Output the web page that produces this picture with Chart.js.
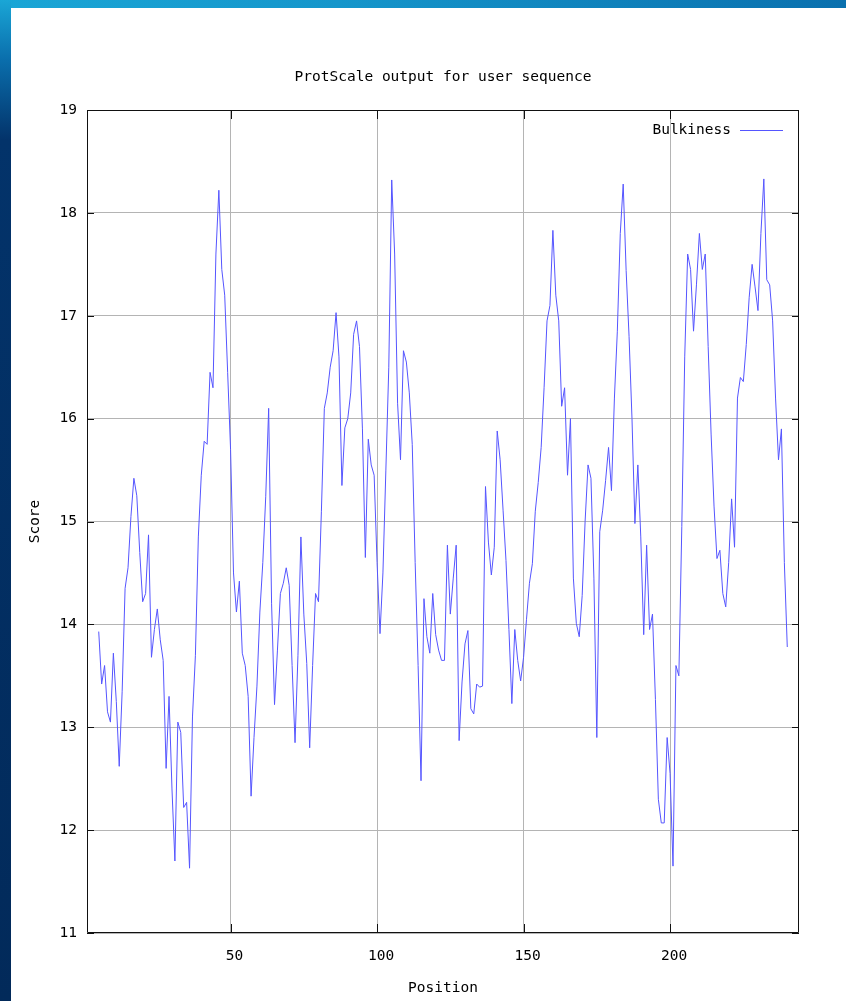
<!DOCTYPE html>
<html><head><meta charset="utf-8">
<script src="https://cdn.jsdelivr.net/npm/chart.js@4.4.1/dist/chart.umd.min.js"></script>
<style>
html,body{margin:0;padding:0;}
body{width:846px;height:1001px;position:relative;overflow:hidden;background:#022a5a;}
#topbar{position:absolute;left:0;top:0;width:846px;height:8px;background:linear-gradient(to right,#1aa6d6,#1596cb 40%,#0a70ae);}
#leftbar{position:absolute;left:0;top:0;width:11px;height:1001px;background:linear-gradient(to bottom,#1aa6d6 0px,#0a6eac 60px,#03336a 140px,#022a5a 1001px);}
#panel{position:absolute;left:11px;top:8px;width:835px;height:993px;background:#fff;}
canvas{position:absolute;left:0;top:0;}
</style></head><body>
<div id="topbar"></div><div id="leftbar"></div><div id="panel"></div>
<canvas id="c" width="846" height="1001"></canvas>
<script>
const chartTitle = 'ProtScale output for user sequence';
const seriesLabel = 'Bulkiness';
const xAxisTitle = 'Position';
const yAxisTitle = 'Score';
const firstPosition = 5;
const bulkiness = [
 13.93,13.42,13.60,13.15,13.05,13.72,13.25,12.62,13.35,14.35,
 14.55,15.05,15.42,15.25,14.70,14.22,14.30,14.87,13.68,13.95,
 14.15,13.85,13.65,12.60,13.30,12.40,11.70,13.05,12.95,12.22,
 12.27,11.63,13.10,13.70,14.85,15.45,15.78,15.75,16.45,16.30,
 17.60,18.22,17.45,17.20,16.45,15.70,14.50,14.12,14.42,13.72,
 13.60,13.30,12.33,12.90,13.40,14.12,14.60,15.24,16.10,14.20,
 13.22,13.75,14.30,14.40,14.55,14.38,13.60,12.85,13.70,14.85,
 14.10,13.62,12.80,13.60,14.30,14.22,15.10,16.10,16.25,16.50,
 16.66,17.03,16.60,15.35,15.91,16.00,16.25,16.82,16.95,16.70,
 15.90,14.65,15.80,15.55,15.45,14.60,13.91,14.50,15.50,16.50,
 18.32,17.60,16.15,15.60,16.66,16.55,16.25,15.75,14.60,13.60,
 12.48,14.25,13.88,13.72,14.30,13.90,13.75,13.65,13.65,14.77,
 14.10,14.45,14.77,12.87,13.44,13.81,13.94,13.18,13.13,13.42,
 13.39,13.40,15.34,14.80,14.48,14.75,15.88,15.60,15.11,14.62,
 13.95,13.23,13.95,13.65,13.45,13.68,14.05,14.40,14.59,15.10,
 15.38,15.72,16.30,16.95,17.10,17.83,17.20,16.95,16.12,16.30,
 15.45,16.00,14.45,14.01,13.88,14.28,15.00,15.55,15.42,14.45,
 12.90,14.90,15.11,15.40,15.72,15.30,16.20,16.85,17.80,18.28,
 17.44,16.80,16.00,14.98,15.55,14.85,13.90,14.77,13.95,14.10,
 13.27,12.30,12.07,12.07,12.90,12.55,11.65,13.60,13.50,14.95,
 16.60,17.60,17.45,16.85,17.30,17.80,17.45,17.60,16.70,15.85,
 15.15,14.64,14.72,14.30,14.17,14.60,15.22,14.75,16.20,16.40,
 16.36,16.72,17.18,17.50,17.28,17.05,17.80,18.33,17.35,17.30,
 16.95,16.20,15.60,15.90,14.60,13.78
];
const xRange = [1, 244];
const yRange = [11, 19];
const xTickValues = [50, 100, 150, 200];
const yTickValues = [11, 12, 13, 14, 15, 16, 17, 18, 19];

const FONT = "'DejaVu Sans Mono', 'Liberation Mono', monospace";
const lineColor = 'rgb(85,85,255)';

const framePlugin = {
  id: 'frame',
  afterDatasetsDraw(chart) {
    const {ctx, chartArea: a, scales: {x, y}} = chart;
    ctx.save();
    ctx.strokeStyle = '#111';
    ctx.lineWidth = 1;
    ctx.beginPath();
    ctx.rect(Math.round(a.left) + 0.5, Math.round(a.top) + 0.5,
             Math.round(a.right - a.left) - 1, Math.round(a.bottom - a.top) - 1);
    yTickValues.forEach(v => {
      const py = Math.round(y.getPixelForValue(v)) + 0.5;
      ctx.moveTo(a.left, py); ctx.lineTo(a.left + 7, py);
      ctx.moveTo(a.right - 7, py); ctx.lineTo(a.right, py);
    });
    xTickValues.forEach(v => {
      const px = Math.round(x.getPixelForValue(v)) + 0.5;
      ctx.moveTo(px, a.bottom); ctx.lineTo(px, a.bottom - 9);
      ctx.moveTo(px, a.top); ctx.lineTo(px, a.top + 9);
    });
    ctx.stroke();
    // legend
    const ds = chart.data.datasets[0];
    ctx.font = '14.5px ' + FONT;
    ctx.fillStyle = '#000';
    ctx.textAlign = 'right';
    ctx.textBaseline = 'middle';
    const ly = a.top + 20;
    ctx.fillText(ds.label, a.right - 68, ly);
    ctx.strokeStyle = ds.borderColor;
    ctx.beginPath();
    ctx.moveTo(a.right - 59, ly + 0.5); ctx.lineTo(a.right - 16, ly + 0.5);
    ctx.stroke();
    ctx.restore();
  }
};

new Chart(document.getElementById('c'), {
  type: 'line',
  data: {
    datasets: [{
      label: seriesLabel,
      data: bulkiness.map((v, i) => ({x: firstPosition + i, y: v})),
      borderColor: lineColor,
      borderWidth: 1,
      pointRadius: 0,
      tension: 0,
      fill: false
    }]
  },
  options: {
    responsive: false,
    animation: false,
    devicePixelRatio: 1,
    layout: {padding: {left: 0, right: 47, top: 0, bottom: 0}},
    plugins: {
      legend: {display: false},
      tooltip: {enabled: false},
      title: {
        display: true, text: chartTitle, fullSize: false, color: '#000',
        font: {family: FONT, size: 14.5, weight: 'normal', lineHeight: 1.2},
        padding: {top: 68.3, bottom: 24.3}
      }
    },
    scales: {
      x: {
        type: 'linear', min: xRange[0], max: xRange[1],
        afterBuildTicks: s => { s.ticks = xTickValues.map(v => ({value: v})); },
        afterFit: s => { s.height = 68; },
        grid: {color: '#b4b4b4', lineWidth: 1, drawTicks: false},
        border: {display: false},
        ticks: {color: '#000', font: {family: FONT, size: 14.5}, padding: 15, labelOffset: 4, maxRotation: 0, autoSkip: false},
        title: {display: true, text: xAxisTitle, color: '#000', font: {family: FONT, size: 14.5, lineHeight: 1.2}, padding: {top: 0, bottom: 4}}
      },
      y: {
        type: 'linear', min: yRange[0], max: yRange[1],
        afterBuildTicks: s => { s.ticks = yTickValues.map(v => ({value: v})); },
        afterFit: s => { s.width = 87; },
        grid: {color: '#b4b4b4', lineWidth: 1, drawTicks: false},
        border: {display: false},
        ticks: {color: '#000', font: {family: FONT, size: 14.5}, padding: 10},
        title: {display: true, text: yAxisTitle, color: '#000', font: {family: FONT, size: 14.5, lineHeight: 1.2}, padding: {top: 27, bottom: 0}}
      }
    }
  },
  plugins: [framePlugin]
});
</script></body></html>
